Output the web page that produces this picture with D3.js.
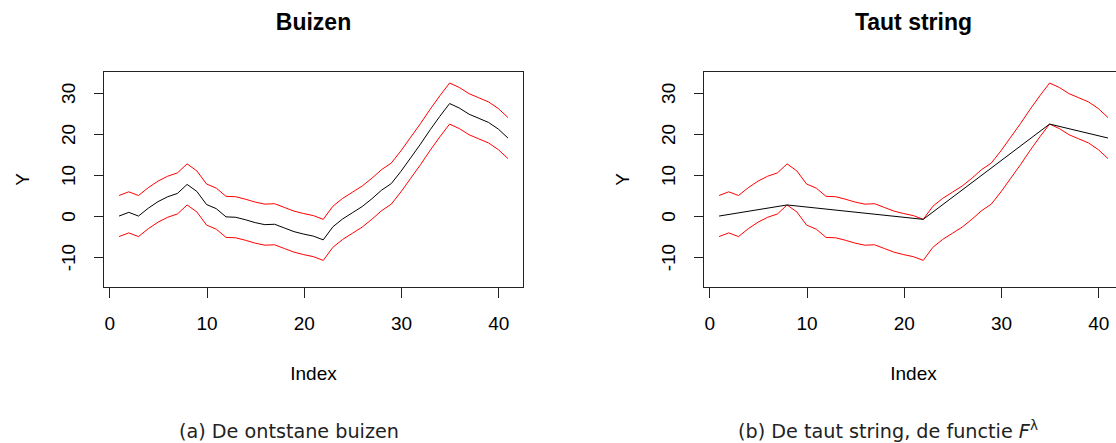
<!DOCTYPE html>
<html>
<head>
<meta charset="utf-8">
<script src="https://cdn.jsdelivr.net/npm/d3@7"></script>
<style>
  body { margin: 0; background: #fff; }
  svg { display: block; }
  .rtext { font-family: "Liberation Sans", Arial, sans-serif; fill: #000; }
  .caption { font-family: "DejaVu Sans", sans-serif; fill: #222; }
</style>
</head>
<body>
<div id="chart"></div>
<script>
// Data
var index = [1,2,3,4,5,6,7,8,9,10,11,12,13,14,15,16,17,18,19,20,21,22,23,24,25,26,27,28,29,30,31,32,33,34,35,36,37,38,39,40,41];
var center = [0, 0.9, 0, 1.9, 3.5, 4.7, 5.5, 7.7, 6.0, 2.8, 1.8, -0.2, -0.3, -0.9, -1.6, -2.1, -2.0, -2.9, -3.8, -4.4, -4.9, -5.8, -2.6, -0.7, 0.8, 2.3, 4.2, 6.3, 7.9, 10.9, 14.2, 17.5, 21.0, 24.3, 27.4, 26.3, 24.8, 23.8, 22.8, 21.2, 19.0];
var upper = [5, 5.9, 5, 6.9, 8.5, 9.7, 10.5, 12.7, 11.0, 7.8, 6.8, 4.8, 4.7, 4.1, 3.4, 2.9, 3.0, 2.1, 1.2, 0.6, 0.1, -0.8, 2.4, 4.3, 5.8, 7.3, 9.2, 11.3, 12.9, 15.9, 19.2, 22.5, 26.0, 29.3, 32.4, 31.3, 29.8, 28.8, 27.8, 26.2, 24.0];
var lower = [-5, -4.1, -5, -3.1, -1.5, -0.3, 0.5, 2.7, 1.0, -2.2, -3.2, -5.2, -5.3, -5.9, -6.6, -7.1, -7.0, -7.9, -8.8, -9.4, -9.9, -10.8, -7.6, -5.7, -4.2, -2.7, -0.8, 1.3, 2.9, 5.9, 9.2, 12.5, 16.0, 19.3, 22.4, 21.3, 19.8, 18.8, 17.8, 16.2, 14.0];
var tautX = [1, 8, 22, 35, 41];
var tautY = [0, 2.7, -0.8, 22.4, 19.0];

var xTicks = [0, 10, 20, 30, 40];
var yTicks = [-10, 0, 10, 20, 30];
var titles = ["Buizen", "Taut string"];

//Config
var W = 1116, H = 443;
var boxW = 420, boxTop = 71.5, boxBottom = 287.5;
var panelLeft = [103.5, 703.5];
var fontSize = 19;

var svg = d3.select("#chart").append("svg")
  .attr("width", W)
  .attr("height", H);

function drawPanel(p) {
  var x0 = panelLeft[p];
  var x = d3.scaleLinear().domain([-0.6, 42.6]).range([x0, x0 + boxW]);
  var y = d3.scaleLinear().domain([-17.4, 35.2]).range([boxBottom, boxTop]);

  var g = svg.append("g").attr("class", "panel");

  // box
  g.append("rect")
    .attr("x", x0).attr("y", boxTop)
    .attr("width", boxW).attr("height", boxBottom - boxTop)
    .attr("fill", "none").attr("stroke", "#222").attr("stroke-width", 1)
    .attr("shape-rendering", "crispEdges");

  // x axis
  var xa = g.append("g")
    .attr("transform", "translate(0," + boxBottom + ")")
    .call(d3.axisBottom(x).tickValues(xTicks).tickFormat(String)
      .tickSize(10).tickSizeOuter(0).tickPadding(19));
  xa.select(".domain").attr("d", "M" + x(xTicks[0]) + ",0H" + x(xTicks[xTicks.length - 1]));
  xa.selectAll("line, path").attr("stroke", "#222").attr("shape-rendering", "crispEdges");
  xa.selectAll("text").attr("class", "rtext").attr("font-size", fontSize);

  // y axis, labels turned like R does
  var ya = g.append("g")
    .attr("transform", "translate(" + x0 + ",0)")
    .call(d3.axisLeft(y).tickValues(yTicks).tickFormat(String).tickSize(10).tickSizeOuter(0));
  ya.select(".domain").attr("d", "M0," + y(yTicks[0]) + "V" + y(yTicks[yTicks.length - 1]));
  ya.selectAll("line, path").attr("stroke", "#222").attr("shape-rendering", "crispEdges");
  ya.selectAll("text")
    .attr("class", "rtext")
    .attr("font-size", fontSize)
    .attr("transform", "rotate(-90)")
    .attr("x", 0).attr("y", -28.5).attr("dy", null)
    .attr("text-anchor", "middle");

  // tube bounds
  var line = d3.line()
    .x(function(d, i) { return x(index[i]); })
    .y(function(d) { return y(d); });

  g.append("path").datum(upper).attr("d", line)
    .attr("fill", "none").attr("stroke", "#ff0000").attr("stroke-width", 1);
  g.append("path").datum(lower).attr("d", line)
    .attr("fill", "none").attr("stroke", "#ff0000").attr("stroke-width", 1);

  if (p == 0) {
    g.append("path").datum(center).attr("d", line)
      .attr("fill", "none").attr("stroke", "#000").attr("stroke-width", 1);
  } else {
    var taut = d3.line()
      .x(function(d, i) { return x(tautX[i]); })
      .y(function(d) { return y(d); });
    g.append("path").datum(tautY).attr("d", taut)
      .attr("fill", "none").attr("stroke", "#000").attr("stroke-width", 1);
  }

  var cx = x0 + boxW / 2;
  g.append("text").attr("class", "rtext")
    .attr("x", cx).attr("y", 30)
    .attr("text-anchor", "middle")
    .attr("font-size", 23).attr("font-weight", "bold")
    .text(titles[p]);

  g.append("text").attr("class", "rtext")
    .attr("x", cx).attr("y", 380)
    .attr("text-anchor", "middle")
    .attr("font-size", fontSize)
    .text("Index");

  g.append("text").attr("class", "rtext")
    .attr("transform", "translate(" + (x0 - 74.5) + "," + ((boxTop + boxBottom) / 2) + ") rotate(-90)")
    .attr("text-anchor", "middle")
    .attr("font-size", fontSize)
    .text("Y");
}

drawPanel(0);
drawPanel(1);

// captions under the two plots
svg.append("text").attr("class", "caption")
  .attr("x", 289).attr("y", 438)
  .attr("text-anchor", "middle")
  .attr("font-size", 19.2)
  .text("(a) De ontstane buizen");

var cap = svg.append("text").attr("class", "caption")
  .attr("x", 888).attr("y", 438)
  .attr("text-anchor", "middle")
  .attr("font-size", 19.2);
cap.append("tspan").text("(b) De taut string, de functie ");
cap.append("tspan").attr("font-style", "italic").text("F");
cap.append("tspan").attr("dy", -8).attr("font-size", 13.5).text("\u03bb");
</script>
</body>
</html>
